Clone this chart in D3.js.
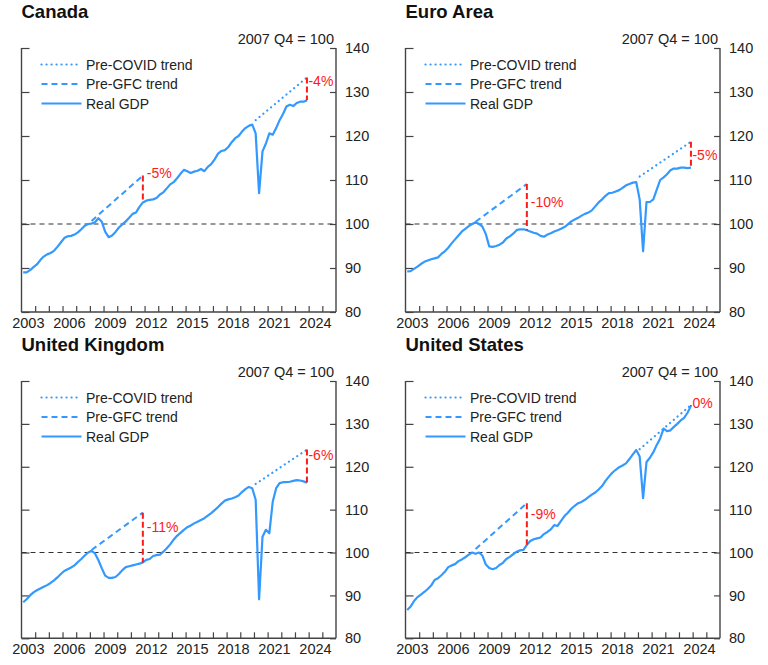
<!DOCTYPE html>
<html>
<head>
<meta charset="utf-8">
<script src="https://cdn.jsdelivr.net/npm/d3@7"></script>
<style>
  html, body { margin: 0; padding: 0; background: #fff; }
  svg { display: block; font-family: "Liberation Sans", Arial, Helvetica, sans-serif; }
</style>
</head>
<body>
<svg id="chart" width="768" height="665"></svg>
<script>
// ---------------- DATA ----------------
const panelTitles = ["Canada", "Euro Area", "United Kingdom", "United States"];
const firstYear = 2003;           // quarterly data start: 2003 Q1
const xLabelYears = [2003, 2006, 2009, 2012, 2015, 2018, 2021, 2024];
const yTicks = [80, 90, 100, 110, 120, 130, 140];
const baseNote = "2007 Q4 = 100";
const legendLabels = ["Pre-COVID trend", "Pre-GFC trend", "Real GDP"];

// Real GDP, 2003 Q1 .. 2023 Q4 (index, 2007 Q4 = 100)
const canada = [
  89.0, 89.0, 89.5, 90.2,  90.8, 91.8, 92.6, 93.1,  93.4, 93.9, 94.8, 95.8,
  96.8, 97.2, 97.3, 97.6,  98.1, 98.8, 99.6, 100.0, 100.1, 100.4, 101.3, 100.5,
  98.2, 97.0, 97.4, 98.2,  99.2, 99.9, 100.6, 101.4, 102.3, 102.6, 103.9, 104.9,
  105.3, 105.5, 105.6, 105.9, 106.7, 107.2, 108.1, 109.0, 109.5, 110.4, 111.4, 112.3,
  112.0, 111.6, 111.9, 112.1, 112.5, 112.0, 113.0, 113.6, 114.7, 116.0, 116.6, 116.8,
  117.5, 118.6, 119.5, 120.0, 121.0, 121.8, 122.3, 122.6, 120.6, 107.0, 116.5, 118.3,
  120.6, 120.3, 121.8, 123.6, 125.0, 126.7, 127.1, 126.8, 127.5, 127.8, 127.8, 128.1
];
const euroArea = [
  89.2, 89.3, 89.8, 90.3,  90.9, 91.4, 91.7, 92.0,  92.2, 92.4, 93.2, 93.8,
  94.6, 95.6, 96.5, 97.4,  98.3, 98.9, 99.5, 100.0, 100.4, 100.0, 99.4, 97.7,
  94.9, 94.8, 95.0, 95.3,  95.8, 96.7, 97.2, 97.8,  98.6, 98.8, 98.8, 98.6,
  98.3, 98.0, 97.8, 97.3,  97.1, 97.6, 97.9, 98.3,  98.6, 98.9, 99.3, 99.9,
  100.6, 101.0, 101.4, 101.9, 102.3, 102.6, 103.1, 104.0, 104.9, 105.6, 106.4, 107.0,
  107.1, 107.4, 107.7, 108.2, 108.8, 109.1, 109.4, 109.5, 105.6, 93.8, 105.0, 105.0,
  105.6, 107.8, 110.0, 110.6, 111.3, 112.2, 112.6, 112.6, 112.8, 112.8, 112.7, 112.8
];
const unitedKingdom = [
  88.4, 89.1, 90.0, 90.7,  91.2, 91.6, 92.0, 92.4,  92.9, 93.5, 94.2, 95.0,
  95.7, 96.1, 96.5, 97.0,  97.8, 98.5, 99.3, 100.0, 100.4, 99.8, 98.2, 96.3,
  94.6, 94.1, 94.1, 94.3,  95.0, 95.9, 96.6, 96.8,  97.0, 97.2, 97.4, 97.7,
  98.3, 98.5, 99.2, 99.4,  99.5, 100.2, 101.0, 101.9, 103.0, 103.9, 104.6, 105.3,
  105.9, 106.3, 106.8, 107.2, 107.6, 108.0, 108.6, 109.2, 109.9, 110.6, 111.4, 112.1,
  112.4, 112.6, 112.9, 113.3, 114.1, 114.8, 115.3, 115.0, 112.3, 89.1, 103.7, 105.3,
  104.5, 111.9, 115.0, 116.2, 116.4, 116.4, 116.5, 116.7, 116.9, 116.8, 116.6, 116.3
];
const unitedStates = [
  86.6, 87.4, 88.7, 89.6,  90.2, 90.8, 91.5, 92.3,  93.6, 94.0, 94.7, 95.5,
  96.6, 97.0, 97.3, 98.0,  98.4, 98.9, 99.5, 100.0, 99.7, 100.0, 99.3, 97.2,
  96.4, 96.1, 96.4, 97.1,  97.6, 98.5, 99.0, 99.6,  100.2, 100.5, 100.6, 101.8,
  102.7, 103.1, 103.3, 103.5, 104.3, 104.8, 105.4, 106.4, 106.2, 107.4, 108.5, 109.3,
  110.2, 110.9, 111.5, 111.8, 112.3, 112.9, 113.5, 114.0, 114.7, 115.5, 116.7, 117.7,
  118.6, 119.3, 119.9, 120.3, 120.8, 121.8, 122.9, 123.9, 122.4, 112.7, 121.1, 122.1,
  123.4, 125.1, 126.6, 128.9, 128.3, 128.5, 129.3, 130.0, 130.8, 131.4, 132.6, 134.2
];

// Trend lines: [start, end] values; quarters given below
const preGfcQuarters   = ["2008 Q1", "2011 Q4"];
const preCovidQuarters = ["2020 Q1", "2023 Q4"];
const preGfcTrend   = [[100.7, 111.0], [100.5, 109.1], [100.6, 109.3], [100.8, 111.5]];
const preCovidTrend = [[123.6, 133.3], [110.8, 118.7], [116.0, 124.0], [124.1, 134.4]];

// Gap annotations
const gfcGapLabels   = ["-5%", "-10%", "-11%", "-9%"];
const covidGapLabels = ["-4%", "-5%", "-6%", "0%"];
const gfcGapLabelAt   = [111.7, 105.1, 105.9, 109.0];
const covidGapLabelAt = [132.5, 115.8, 122.8, 134.8];

const series = [canada, euroArea, unitedKingdom, unitedStates];

// ---------------- DRAW ----------------
const blue = "#3399ff", red = "#ff1a1a", axisCol = "#444";
const svg = d3.select("#chart");

function qTime(label) {            // "2008 Q1" -> mid-quarter decimal year
  const [y, q] = label.split(" Q").map(Number);
  return y + (q - 0.5) / 4;
}
function idxTime(i) { return firstYear + (i + 0.5) / 4; }

const panels = [
  { ox: 0,   top: 48,  bottom: 312 },
  { ox: 384, top: 48,  bottom: 312 },
  { ox: 0,   top: 381, bottom: 638.3 },
  { ox: 384, top: 381, bottom: 638.3 }
];

panels.forEach((p, pi) => {
  const left = p.ox + 21.5, right = p.ox + 336;
  const x = d3.scaleLinear().domain([2003, 2026]).range([left, right]);
  const y = d3.scaleLinear().domain([80, 140]).range([p.bottom, p.top]);
  const g = svg.append("g");

  // title
  g.append("text").attr("x", left).attr("y", p.top - 29.7)
    .attr("font-size", 18.5).attr("font-weight", "bold").attr("fill", "#111")
    .text(panelTitles[pi]);
  // base note
  g.append("text").attr("x", right - 2).attr("y", p.top - 4.5)
    .attr("text-anchor", "end").attr("font-size", 14.5).attr("fill", "#222")
    .text(baseNote);

  // axes
  const yearTicks = d3.range(2004, 2026);
  const bottomAxis = d3.axisBottom(x).tickValues(yearTicks).tickSize(-6).tickFormat("");
  const ga = g.append("g").attr("transform", `translate(0,${p.bottom})`).call(bottomAxis);
  ga.select(".domain").remove();
  ga.selectAll("line").attr("stroke", axisCol).attr("stroke-width", 1.2);
  g.append("line").attr("x1", left).attr("x2", right).attr("y1", p.bottom).attr("y2", p.bottom)
    .attr("stroke", axisCol).attr("stroke-width", 1.4);

  const leftAxis = d3.axisLeft(y).tickValues(yTicks).tickSize(-8).tickFormat("");
  const gl = g.append("g").attr("transform", `translate(${left},0)`).call(leftAxis);
  gl.select(".domain").remove();
  gl.selectAll("line").attr("stroke", axisCol).attr("stroke-width", 1.2);
  g.append("line").attr("x1", left).attr("x2", left).attr("y1", p.top).attr("y2", p.bottom)
    .attr("stroke", axisCol).attr("stroke-width", 1.4);

  const rightAxis = d3.axisRight(y).tickValues(yTicks).tickSize(-6).tickPadding(9);
  const gr = g.append("g").attr("transform", `translate(${right},0)`).call(rightAxis);
  gr.select(".domain").remove();
  gr.selectAll("line").attr("stroke", axisCol).attr("stroke-width", 1.2);
  gr.selectAll("text").attr("font-size", 14.5).attr("fill", "#222")
    .attr("font-family", "'Liberation Sans', Arial, sans-serif");
  g.append("line").attr("x1", right).attr("x2", right).attr("y1", p.top).attr("y2", p.bottom)
    .attr("stroke", axisCol).attr("stroke-width", 1.4);

  // year labels at mid-year
  g.selectAll(".yl").data(xLabelYears).enter().append("text")
    .attr("x", d => x(d + 0.5)).attr("y", p.bottom + 15.5)
    .attr("text-anchor", "middle").attr("font-size", 14.5).attr("fill", "#222")
    .text(d => d);

  // reference line at 100
  g.append("line").attr("x1", left).attr("x2", right).attr("y1", y(100)).attr("y2", y(100))
    .attr("stroke", "#333").attr("stroke-width", 1.1).attr("stroke-dasharray", "5,4");

  // trends
  const line = d3.line().x(d => x(d[0])).y(d => y(d[1]));
  const gfc = preGfcQuarters.map((q, i) => [qTime(q), preGfcTrend[pi][i]]);
  const cov = preCovidQuarters.map((q, i) => [qTime(q), preCovidTrend[pi][i]]);
  g.append("path").attr("d", line(gfc)).attr("fill", "none").attr("stroke", blue)
    .attr("stroke-width", 2).attr("stroke-dasharray", "6,4");
  g.append("path").attr("d", line(cov)).attr("fill", "none").attr("stroke", blue)
    .attr("stroke-width", 2.2).attr("stroke-dasharray", "0.1,4.9").attr("stroke-linecap", "round");

  // real GDP
  const data = series[pi].map((v, i) => [idxTime(i), v]);
  g.append("path").attr("d", line(data)).attr("fill", "none").attr("stroke", blue)
    .attr("stroke-width", 2.2).attr("stroke-linejoin", "round");

  // gaps
  const gaps = [
    { t: qTime(preGfcQuarters[1]), top: preGfcTrend[pi][1], label: gfcGapLabels[pi], ly: gfcGapLabelAt[pi], dx: 4 },
    { t: qTime(preCovidQuarters[1]), top: preCovidTrend[pi][1], label: covidGapLabels[pi], ly: covidGapLabelAt[pi], dx: 1.5 }
  ];
  gaps.forEach(gp => {
    const i = series[pi].findIndex((v, k) => Math.abs(idxTime(k) - gp.t) < 1e-6);
    const actual = series[pi][i];
    g.append("line").attr("x1", x(gp.t)).attr("x2", x(gp.t))
      .attr("y1", y(gp.top)).attr("y2", y(actual))
      .attr("stroke", red).attr("stroke-width", 2).attr("stroke-dasharray", "6,3");
    g.append("text").attr("x", x(gp.t) + gp.dx).attr("y", y(gp.ly)).attr("dy", "0.36em")
      .attr("font-size", 14).attr("fill", red).text(gp.label);
  });

  // legend
  const legY = [16.5, 36, 55.5];
  const dashes = [["0.1,4.9", "round", 2.2], ["6,4", "butt", 2], [null, "butt", 2.2]];
  legendLabels.forEach((lab, i) => {
    const ly = p.top + legY[i];
    const ln = g.append("line").attr("x1", p.ox + 41.5).attr("x2", p.ox + 81.5)
      .attr("y1", ly).attr("y2", ly).attr("stroke", blue)
      .attr("stroke-width", dashes[i][2]).attr("stroke-linecap", dashes[i][1]);
    if (dashes[i][0]) ln.attr("stroke-dasharray", dashes[i][0]);
    g.append("text").attr("x", p.ox + 86).attr("y", ly).attr("dy", "0.36em")
      .attr("font-size", 14).attr("fill", "#222").text(lab);
  });
});
</script>
</body>
</html>
